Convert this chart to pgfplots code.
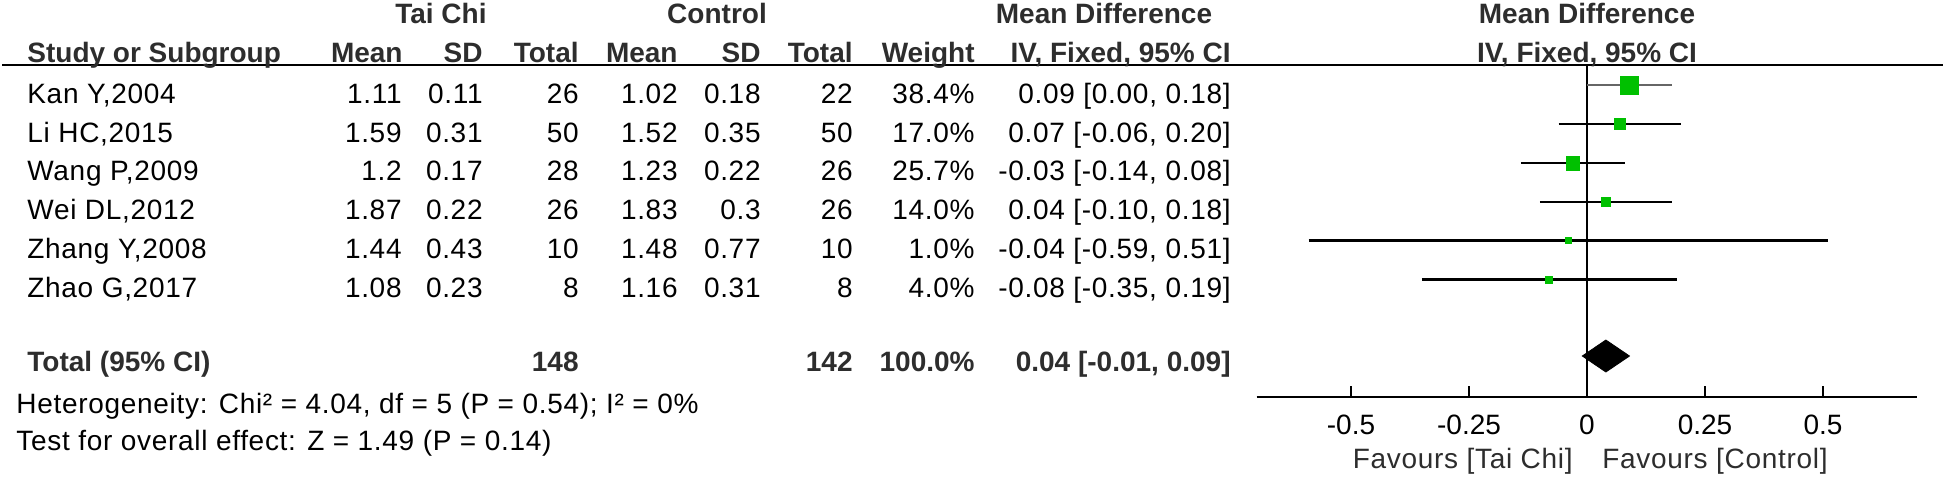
\documentclass[border=0pt]{standalone}
\usepackage{fontspec}
\setmainfont{Liberation Sans}
\newfontfamily\regf{Liberation Sans}[LetterSpace=2.5]
\usepackage{pgfplots}
\pgfplotsset{compat=1.18}
\usepackage{pgfplotstable}
\definecolor{mdgreen}{RGB}{0,192,0}
\definecolor{hdr}{RGB}{45,45,45}
\newcommand\tf{\fontsize{14}{16}\selectfont}
\newcommand\rf{\regf\fontsize{14}{16}\selectfont}

% y = minus the row position (px from the top), md = mean difference, sz = half side of square (pt)
\pgfplotstableread{
y      md     lo     hi    sz
-85.5  0.09   0.00   0.18  4.55
-124   0.07  -0.06   0.20  2.75
-163  -0.03  -0.14   0.08  3.45
-202   0.04  -0.10   0.18  2.2
-240.5 -0.04 -0.59   0.51  1.4
-279.5 -0.08 -0.35   0.19  1.7
}\studies

\begin{document}
\begin{tikzpicture}
\begin{axis}[
  at={(628.3pt,-198.5pt)}, anchor=south west,
  scale only axis, width=330.4pt, height=166pt,
  xmin=-0.7, xmax=0.7, ymin=-397, ymax=-65,
  enlargelimits=false,
  axis x line*=bottom, axis y line=none,
  axis line style={draw=none},
  xtick={-0.5,-0.25,0,0.25,0.5},
  xticklabels={-0.5,-0.25,0,0.25,0.5},
  ytick=\empty,
  major tick length=0pt,
  xticklabel style={anchor=center, yshift=-14pt, font=\tf, text=black},
  clip=false,
]
% axis line
\addplot[black, line width=1.3pt] coordinates {(-0.7,-397) (0.7,-397)};
% tick marks (pointing up from the axis line)
\addplot[black, line width=1.2pt, unbounded coords=jump] table {
x y
-0.5 -397
-0.5 -385.5
nan nan
-0.25 -397
-0.25 -385.5
nan nan
0.25 -397
0.25 -385.5
nan nan
0.5 -397
0.5 -385.5
};
% zero line
\addplot[black, line width=1.2pt] coordinates {(0,-65) (0,-397)};
% confidence intervals
\addplot[black!60, line width=1.1pt] coordinates {(0.00,-85) (0.18,-85)};
\addplot[black, line width=1.3pt] coordinates {(-0.06,-124) (0.20,-124)};
\addplot[black, line width=1.3pt] coordinates {(-0.14,-163) (0.08,-163)};
\addplot[black, line width=1.3pt] coordinates {(-0.10,-202) (0.18,-202)};
\addplot[black, line width=1.3pt] coordinates {(-0.59,-240.5) (0.51,-240.5)};
\addplot[black, line width=1.3pt] coordinates {(-0.35,-279.5) (0.19,-279.5)};
% study squares
\addplot[scatter, only marks, mark=square*,
  scatter/use mapped color={draw=mdgreen, fill=mdgreen},
  visualization depends on={\thisrow{sz} \as \perpointmarksize},
  scatter/@pre marker code/.append style={/tikz/mark size=\perpointmarksize},
] table[x=md, y=y, meta=sz] {\studies};
% pooled diamond
\addplot[fill=black, draw=black, line width=0.4pt] coordinates {(-0.01,-356) (0.04,-340) (0.09,-356) (0.04,-372) (-0.01,-356)} -- cycle;
\end{axis}

\begin{scope}[x=0.5pt, y=-0.5pt, every node/.style={inner sep=0pt, font=\rf}]
\draw[line width=1.3pt, black] (2,65) -- (1943,65);
% header row 1
\node[anchor=base east, font=\tf\bfseries, text=hdr] at (487,23) {Tai Chi};
\node[anchor=base, font=\tf\bfseries, text=hdr] at (717,23) {Control};
\node[anchor=base, font=\tf\bfseries, text=hdr] at (1104,23) {Mean Difference};
\node[anchor=base, font=\tf\bfseries, text=hdr] at (1587,23) {Mean Difference};
% header row 2
\node[anchor=base west, font=\tf\bfseries, text=hdr] at (27,62) {Study or Subgroup};
\node[anchor=base east, font=\tf\bfseries, text=hdr] at (403,62) {Mean};
\node[anchor=base east, font=\tf\bfseries, text=hdr] at (483,62) {SD};
\node[anchor=base east, font=\tf\bfseries, text=hdr] at (579,62) {Total};
\node[anchor=base east, font=\tf\bfseries, text=hdr] at (678,62) {Mean};
\node[anchor=base east, font=\tf\bfseries, text=hdr] at (761,62) {SD};
\node[anchor=base east, font=\tf\bfseries, text=hdr] at (853,62) {Total};
\node[anchor=base east, font=\tf\bfseries, text=hdr] at (975,62) {Weight};
\node[anchor=base east, font=\tf\bfseries, text=hdr] at (1231,62) {IV, Fixed, 95\% CI};
\node[anchor=base, font=\tf\bfseries, text=hdr] at (1587,62) {IV, Fixed, 95\% CI};
% study rows
\foreach \nm/\ma/\sa/\na/\mb/\sb/\nb/\w/\ci/\yb in {
  {Kan Y,2004}/1.11/0.11/26/1.02/0.18/22/38.4/{0.09 [0.00, 0.18]}/103.3,
  {Li HC,2015}/1.59/0.31/50/1.52/0.35/50/17.0/{0.07 [-0.06, 0.20]}/142.1,
  {Wang P,2009}/1.2/0.17/28/1.23/0.22/26/25.7/{-0.03 [-0.14, 0.08]}/180.9,
  {Wei DL,2012}/1.87/0.22/26/1.83/0.3/26/14.0/{0.04 [-0.10, 0.18]}/219.7,
  {Zhang Y,2008}/1.44/0.43/10/1.48/0.77/10/1.0/{-0.04 [-0.59, 0.51]}/258.5,
  {Zhao G,2017}/1.08/0.23/8/1.16/0.31/8/4.0/{-0.08 [-0.35, 0.19]}/297.3}{
  \node[anchor=base west] at (27,\yb) {\nm};
  \node[anchor=base east] at (402,\yb) {\ma};
  \node[anchor=base east] at (483,\yb) {\sa};
  \node[anchor=base east] at (579,\yb) {\na};
  \node[anchor=base east] at (678,\yb) {\mb};
  \node[anchor=base east] at (761,\yb) {\sb};
  \node[anchor=base east] at (853,\yb) {\nb};
  \node[anchor=base east] at (975,\yb) {\w\%};
  \node[anchor=base east] at (1231,\yb) {\ci};
}
% total row
\node[anchor=base west, font=\tf\bfseries, text=hdr] at (27,371) {Total (95\% CI)};
\node[anchor=base east, font=\tf\bfseries, text=hdr] at (579,371) {148};
\node[anchor=base east, font=\tf\bfseries, text=hdr] at (853,371) {142};
\node[anchor=base east, font=\tf\bfseries, text=hdr] at (975,371) {100.0\%};
\node[anchor=base east, font=\tf\bfseries, text=hdr] at (1231,371) {0.04 [-0.01, 0.09]};
% footnotes
\node[anchor=base west] at (16,413) {Heterogeneity: Chi² = 4.04, df = 5 (P = 0.54); I² = 0\%};
\node[anchor=base west] at (16,450) {Test for overall effect: Z = 1.49 (P = 0.14)};
% favours
\node[anchor=base east, text=hdr] at (1573,468) {Favours [Tai Chi]};
\node[anchor=base west, text=hdr] at (1602,468) {Favours [Control]};
\end{scope}

\pgfresetboundingbox
\path (0pt,0pt) rectangle (973pt,-239pt);
\end{tikzpicture}
\end{document}
